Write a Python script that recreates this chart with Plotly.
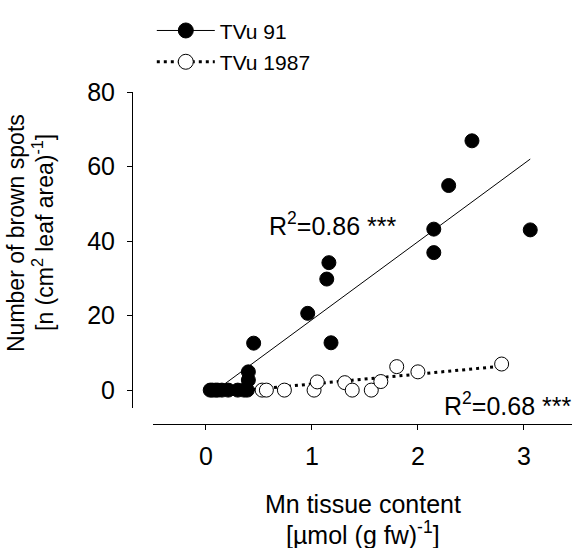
import plotly.graph_objects as go

# --- data ---
tvu91_x = [0.04, 0.06, 0.09, 0.11, 0.15, 0.21, 0.30, 0.36, 0.39, 0.40, 0.40, 0.45,
           0.96, 1.14, 1.16, 1.18, 2.15, 2.15, 2.29, 2.51, 3.06]
tvu91_y = [0.0, 0.0, 0.0, 0.0, 0.0, 0.0, 0.0, 0.0, 0.0, 2.7, 4.9, 12.6,
           20.6, 29.8, 34.2, 12.7, 43.2, 36.9, 54.9, 66.9, 43.0]

tvu1987_x = [0.53, 0.57, 0.74, 1.02, 1.05, 1.31, 1.38, 1.56, 1.65, 1.80, 2.00, 2.79]
tvu1987_y = [0.0, 0.0, 0.0, 0.0, 2.2, 2.0, 0.0, 0.0, 2.3, 6.3, 4.9, 7.0]

fit91_x = [0.10, 3.06]
fit91_y = [0.05, 62.0]
fit1987_x = [0.05, 2.75]
fit1987_y = [-0.9, 6.3]

x_ticks = [0, 1, 2, 3]
y_ticks = [0, 20, 40, 60, 80]

labels = ["TVu 91", "TVu 1987"]
r2_texts = ["R<sup>2</sup>=0.86 ***", "R<sup>2</sup>=0.68 ***"]
x_title = ["Mn tissue content", "[µmol (g fw)<sup>-1</sup>]"]
y_title = ["Number of brown spots", "[n (cm<sup>2</sup> leaf area)<sup>-1</sup>]"]

FONT = "Liberation Sans, Arial, sans-serif"

fig = go.Figure()

# legend-only entries (line + marker)
fig.add_trace(go.Scatter(x=[None], y=[None], mode="lines+markers", name=labels[0],
                         legendgroup="a",
                         line=dict(color="black", width=1),
                         marker=dict(size=15, color="black", line=dict(color="black", width=1))))
fig.add_trace(go.Scatter(x=[None], y=[None], mode="lines+markers", name=labels[1],
                         legendgroup="b",
                         line=dict(color="black", width=3, dash="3px,4px"),
                         marker=dict(size=15, color="white", line=dict(color="black", width=1))))

# fit lines
fig.add_trace(go.Scatter(x=fit1987_x, y=fit1987_y, mode="lines", showlegend=False,
                         line=dict(color="black", width=3, dash="3px,4px")))
fig.add_trace(go.Scatter(x=fit91_x, y=fit91_y, mode="lines", showlegend=False,
                         line=dict(color="black", width=1)))

# points
fig.add_trace(go.Scatter(x=tvu1987_x, y=tvu1987_y, mode="markers", showlegend=False,
                         marker=dict(size=14, color="white", line=dict(color="black", width=1))))
fig.add_trace(go.Scatter(x=tvu91_x, y=tvu91_y, mode="markers", showlegend=False,
                         marker=dict(size=14, color="black", line=dict(color="black", width=1))))

fig.update_layout(
    width=572, height=548,
    margin=dict(l=132, r=0, t=92, b=124, pad=0),
    paper_bgcolor="white", plot_bgcolor="white",
    font=dict(family=FONT, size=25, color="black"),
    showlegend=True,
    legend=dict(x=0.045, y=1.246, xanchor="left", yanchor="top",
                font=dict(size=21, family=FONT, color="black"),
                bgcolor="rgba(0,0,0,0)", borderwidth=0,
                tracegroupgap=1, itemwidth=58),
    xaxis=dict(domain=[0.0477, 1], range=[-0.5, 3.454], anchor="free", position=0,
               showline=True, linecolor="black", linewidth=1,
               ticks="outside", ticklen=5, tickcolor="black", tickwidth=1,
               tickvals=x_ticks, ticktext=[str(v) for v in x_ticks],
               showgrid=False, zeroline=False, ticklabelstandoff=5,
               tickfont=dict(size=25)),
    yaxis=dict(domain=[0.0482, 1], range=[-4.8, 80], anchor="free", position=0,
               showline=True, linecolor="black", linewidth=1,
               ticks="outside", ticklen=5, tickcolor="black", tickwidth=1,
               tickvals=y_ticks, ticktext=[str(v) for v in y_ticks],
               showgrid=False, zeroline=False, ticklabelstandoff=7,
               tickfont=dict(size=25)),
    annotations=[
        dict(x=0.576, y=44.6, xref="x", yref="y", text=r2_texts[0], showarrow=False,
             xanchor="left", yanchor="middle", font=dict(size=25)),
        dict(x=2.224, y=-3.6, xref="x", yref="y", text=r2_texts[1], showarrow=False,
             xanchor="left", yanchor="middle", font=dict(size=25)),
        dict(x=0.524, y=(424 - 504) / 332, xref="paper", yref="paper",
             text=x_title[0], showarrow=False,
             xanchor="center", yanchor="middle", font=dict(size=25)),
        dict(x=0.524, y=(424 - 533) / 332, xref="paper", yref="paper",
             text=x_title[1], showarrow=False,
             xanchor="center", yanchor="middle", font=dict(size=25)),
        dict(x=(16 - 132) / 440, y=(424 - 233) / 332, xref="paper", yref="paper",
             textangle=-90, text=y_title[0], showarrow=False,
             xanchor="center", yanchor="middle", font=dict(size=23)),
        dict(x=(43 - 132) / 440, y=(424 - 233) / 332, xref="paper", yref="paper",
             textangle=-90, text=y_title[1], showarrow=False,
             xanchor="center", yanchor="middle", font=dict(size=23)),
    ],
)

fig.write_html("out.html")
